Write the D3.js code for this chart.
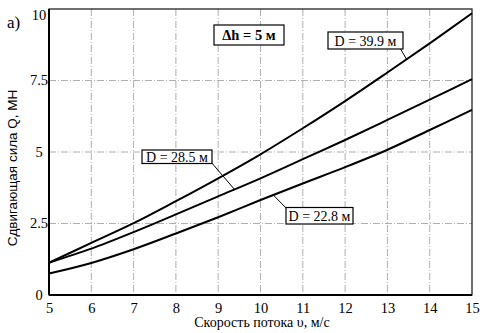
<!DOCTYPE html>
<html>
<head>
<meta charset="utf-8">
<script src="https://cdn.jsdelivr.net/npm/d3@7"></script>
<style>
  body { margin: 0; background: #fff; }
  svg { display: block; }
  .serif { font-family: "Liberation Serif", "Times New Roman", Times, "DejaVu Serif", serif; }
  .sans { font-family: "Liberation Sans", Arial, sans-serif; }
</style>
</head>
<body>
<svg id="chart" width="482" height="333"></svg>
<script>
// Flow speed, m/s
const speeds = [5, 6, 7, 8, 9, 10, 11, 12, 13, 14, 15];
// Shear force Q, MN, for three diameters
const forceD399 = [1.13, 1.82, 2.51, 3.28, 4.08, 4.92, 5.83, 6.78, 7.78, 8.80, 9.85];
const forceD285 = [1.13, 1.62, 2.20, 2.82, 3.45, 4.08, 4.75, 5.42, 6.12, 6.83, 7.55];
const forceD228 = [0.75, 1.12, 1.60, 2.15, 2.72, 3.32, 3.90, 4.47, 5.08, 5.77, 6.47];

const xTicks = [5, 6, 7, 8, 9, 10, 11, 12, 13, 14, 15];
const yTicks = [0, 2.5, 5, 7.5, 10];
const yTickLabels = ["0", "2.5", "5", "7.5", "10"];

const seriesLabels = ["D = 39.9 м", "D = 28.5 м", "D = 22.8 м"];

const svg = d3.select("#chart");
const plotL = 49, plotR = 472, plotT = 9, plotB = 295;

const x = d3.scaleLinear().domain([5, 15]).range([plotL, plotR]);
const y = d3.scaleLinear().domain([0, 10]).range([plotB, plotT]);

// grid
const grid = svg.append("g");
grid.selectAll("line.v").data(xTicks.slice(1, -1)).enter().append("line")
  .attr("x1", d => x(d)).attr("x2", d => x(d))
  .attr("y1", plotT).attr("y2", plotB)
  .attr("stroke", "#9a9a9a").attr("stroke-width", 0.8)
  .attr("stroke-dasharray", "7,2,1,2");
grid.selectAll("line.h").data(yTicks.slice(1, -1)).enter().append("line")
  .attr("x1", plotL).attr("x2", plotR)
  .attr("y1", d => y(d)).attr("y2", d => y(d))
  .attr("stroke", "#9a9a9a").attr("stroke-width", 0.8)
  .attr("stroke-dasharray", "7,2,1,2");

// frame
svg.append("rect")
  .attr("x", plotL).attr("y", plotT)
  .attr("width", plotR - plotL).attr("height", plotB - plotT)
  .attr("fill", "none").attr("stroke", "#111").attr("stroke-width", 1.2);
svg.append("line").attr("x1", plotL).attr("x2", plotL).attr("y1", plotT).attr("y2", plotB)
  .attr("stroke", "#000").attr("stroke-width", 2);
svg.append("line").attr("x1", plotL).attr("x2", plotR).attr("y1", plotB).attr("y2", plotB)
  .attr("stroke", "#000").attr("stroke-width", 2);

// axes
const xAxis = svg.append("g").attr("transform", `translate(0,${plotB})`)
  .call(d3.axisBottom(x).tickValues(xTicks).tickSize(0).tickPadding(8).tickFormat(d3.format("d")));
xAxis.select(".domain").remove();
xAxis.attr("font-family", null).attr("font-size", null);
xAxis.selectAll("text").attr("class", "serif").style("font-size", "14.5px").attr("fill", "#000");

const yAxis = svg.append("g").attr("transform", `translate(${plotL},0)`)
  .call(d3.axisLeft(y).tickValues(yTicks).tickSize(0).tickPadding(10)
    .tickFormat((d, i) => yTickLabels[i]));
yAxis.select(".domain").remove();
yAxis.attr("font-family", null).attr("font-size", null);
yAxis.selectAll(".tick").attr("transform", d => `translate(0,${Math.max(y(d), 15)})`);
yAxis.selectAll("text").attr("class", "serif").style("font-size", "14.5px").attr("fill", "#000")
  .attr("text-anchor", "middle").attr("x", -10);

// curves
const line = d3.line().x((d, i) => x(speeds[i])).y(d => y(d)).curve(d3.curveCatmullRom);
[forceD399, forceD285, forceD228].forEach(s => {
  svg.append("path").datum(s).attr("d", line)
    .attr("fill", "none").attr("stroke", "#000").attr("stroke-width", 2);
});

// boxed labels with leader lines
function boxLabel(text, bx, by, bw, bh, opts) {
  const g = svg.append("g");
  if (opts.leader) {
    g.append("line")
      .attr("x1", opts.leader[0]).attr("y1", opts.leader[1])
      .attr("x2", opts.leader[2]).attr("y2", opts.leader[3])
      .attr("stroke", "#000").attr("stroke-width", 1);
  }
  g.append("rect").attr("x", bx).attr("y", by).attr("width", bw).attr("height", bh)
    .attr("fill", "#fff").attr("stroke", "#000").attr("stroke-width", 1.2);
  g.append("text").attr("x", bx + bw / 2).attr("y", by + bh / 2)
    .attr("dy", "0.36em").attr("text-anchor", "middle")
    .attr("class", "serif").style("font-size", (opts.size || 14) + "px")
    .style("font-weight", opts.bold ? "bold" : "normal").attr("fill", "#000")
    .text(text);
}

boxLabel("Δh = 5 м", 214, 25, 70, 20, { bold: true, size: 14.5 });
boxLabel(seriesLabels[0], 328, 32, 75, 17,
  { leader: [400, 48, x(13.45), y(8.25)] });
boxLabel(seriesLabels[1], 142, 150, 70, 13.5,
  { leader: [211, 162, x(9.38), y(3.70)] });
boxLabel(seriesLabels[2], 286, 207.5, 67, 16.5,
  { leader: [287, 209, x(10.3), y(3.50)] });

// axis titles and panel letter
svg.append("text").attr("x", 262).attr("y", 327)
  .attr("text-anchor", "middle").attr("class", "serif").style("font-size", "14px")
  .attr("fill", "#000").text("Скорость потока υ, м/с");

svg.append("text").attr("transform", "translate(17,168) rotate(-90)")
  .attr("text-anchor", "middle").attr("class", "sans").style("font-size", "13.5px")
  .attr("fill", "#000").text("Сдвигающая сила Q, МН");

svg.append("text").attr("x", 7).attr("y", 28)
  .attr("class", "serif").style("font-size", "17px").attr("fill", "#000").text("a)");
</script>
</body>
</html>
